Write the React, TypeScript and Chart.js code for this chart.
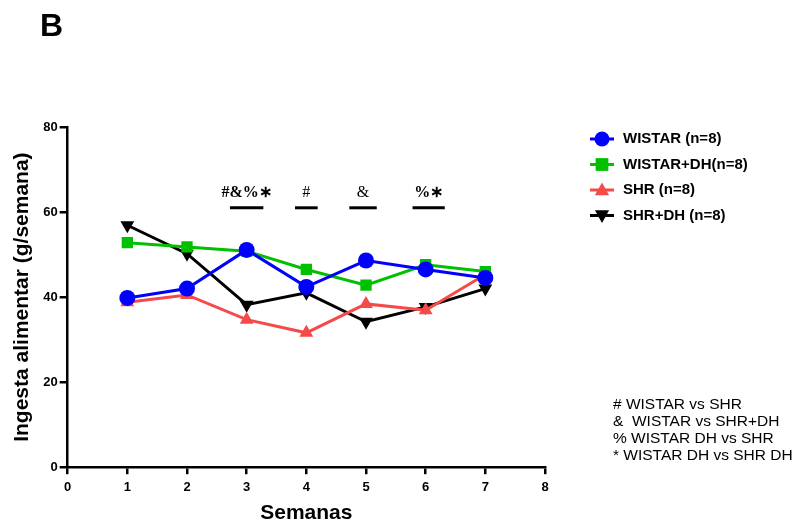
import React, { useEffect, useRef } from "react";
import { Chart, registerables } from "chart.js";

Chart.register(...registerables);

const weeks = [1, 2, 3, 4, 5, 6, 7];
const wistar = [39.8, 42.0, 51.1, 42.4, 48.6, 46.5, 44.5];
const wistarDH = [52.8, 51.8, 50.8, 46.5, 42.8, 47.6, 46.0];
const shr = [38.8, 40.5, 34.7, 31.6, 38.4, 36.9, 45.3];
const shrDH = [56.9, 50.2, 38.2, 41.0, 34.2, 37.7, 42.0];

const seriesNames = ["WISTAR (n=8)", "WISTAR+DH(n=8)", "SHR (n=8)", "SHR+DH (n=8)"];
const seriesColors = ["#0000ff", "#00c000", "#f44a4a", "#000000"];
const seriesPoint = ["circle", "rect", "triangle", "triangle"];
const seriesRot = [0, 0, 0, 180];

const annotLabels = ["#&%∗", "#", "&", "%∗"];
const annotBold = [true, false, false, true];
const annotX = [3.0, 4.0, 4.95, 6.05];
const annotHalfWidth = [0.28, 0.19, 0.23, 0.27];
const annotLineY = 61;

const footnotes = ["# WISTAR vs SHR", "&  WISTAR vs SHR+DH", "% WISTAR DH vs SHR", "* WISTAR DH vs SHR DH"];

const yTicks = [0, 20, 40, 60, 80];

function drawMarker(ctx: CanvasRenderingContext2D, style: string, rot: number, x: number, y: number, r: number, color: string) {
  ctx.save();
  ctx.fillStyle = color;
  ctx.translate(x, y);
  ctx.rotate((rot * Math.PI) / 180);
  ctx.beginPath();
  if (style === "circle") {
    ctx.arc(0, 0, r, 0, Math.PI * 2);
  } else if (style === "rect") {
    ctx.rect(-r * 0.85, -r * 0.85, r * 1.7, r * 1.7);
  } else {
    ctx.moveTo(0, -r);
    ctx.lineTo(r * 0.95, r * 0.7);
    ctx.lineTo(-r * 0.95, r * 0.7);
    ctx.closePath();
  }
  ctx.fill();
  ctx.restore();
}

const extrasPlugin = {
  id: "extras",
  afterDatasetsDraw(chart: any) {
    const ctx: CanvasRenderingContext2D = chart.ctx;
    const xs = chart.scales.x;
    const ys = chart.scales.y;
    ctx.save();
    ctx.fillStyle = "#000";
    ctx.font = "bold 32px 'Liberation Sans', Arial, sans-serif";
    ctx.textAlign = "left";
    ctx.textBaseline = "alphabetic";
    ctx.fillText("B", 40, 36);

    for (let i = 0; i < annotLabels.length; i++) {
      const cx = xs.getPixelForValue(annotX[i]);
      const x0 = xs.getPixelForValue(annotX[i] - annotHalfWidth[i]);
      const x1 = xs.getPixelForValue(annotX[i] + annotHalfWidth[i]);
      const ly = ys.getPixelForValue(annotLineY);
      ctx.strokeStyle = "#000";
      ctx.lineWidth = 3;
      ctx.beginPath();
      ctx.moveTo(x0, ly);
      ctx.lineTo(x1, ly);
      ctx.stroke();
      ctx.fillStyle = "#000";
      ctx.font = (annotBold[i] ? "bold " : "") + "16px 'Liberation Serif', serif";
      ctx.textAlign = "center";
      ctx.textBaseline = "middle";
      ctx.fillText(annotLabels[i], cx, ly - 15);
    }

    const lx = 602;
    for (let i = 0; i < seriesNames.length; i++) {
      const y = 139 + i * 25.5;
      ctx.strokeStyle = seriesColors[i];
      ctx.lineWidth = 3;
      ctx.beginPath();
      ctx.moveTo(lx - 12, y);
      ctx.lineTo(lx + 12, y);
      ctx.stroke();
      drawMarker(ctx, seriesPoint[i], seriesRot[i], lx, y, 7.5, seriesColors[i]);
      ctx.fillStyle = "#000";
      ctx.font = "bold 15px 'Liberation Sans', Arial, sans-serif";
      ctx.textAlign = "left";
      ctx.textBaseline = "middle";
      ctx.fillText(seriesNames[i], lx + 21, y);
    }

    ctx.fillStyle = "#000";
    ctx.font = "15.5px 'Liberation Sans', Arial, sans-serif";
    ctx.textAlign = "left";
    ctx.textBaseline = "middle";
    for (let i = 0; i < footnotes.length; i++) {
      ctx.fillText(footnotes[i], 613, 405 + i * 17);
    }
    ctx.restore();
  },
};

export default function App() {
  const ref = useRef<HTMLCanvasElement>(null);
  useEffect(() => {
    document.body.style.margin = "0";
    const series = [wistar, wistarDH, shr, shrDH];
    const chart = new Chart(ref.current!, {
      type: "line",
      data: {
        datasets: series.map((s, i) => ({
          label: seriesNames[i],
          data: weeks.map((w, j) => ({ x: w, y: s[j] })),
          borderColor: seriesColors[i],
          backgroundColor: seriesColors[i],
          borderWidth: 3,
          pointStyle: seriesPoint[i] as any,
          rotation: seriesRot[i],
          pointRadius: 8,
          pointBorderWidth: 0,
          tension: 0,
        })),
      },
      options: {
        animation: false,
        responsive: false,
        layout: { padding: { left: 10, right: 253, top: 127, bottom: 0 } },
        plugins: { legend: { display: false }, tooltip: { enabled: false } },
        scales: {
          x: {
            type: "linear",
            min: 0,
            max: 8,
            ticks: { stepSize: 1, color: "#000", font: { family: "'Liberation Sans', Arial", weight: "bold", size: 13 }, padding: 5 },
            grid: { drawOnChartArea: false, drawTicks: true, tickLength: 7, color: "#000", lineWidth: 2.5 },
            border: { color: "#000", width: 2.5 },
            title: { display: true, text: "Semanas", color: "#000", font: { family: "'Liberation Sans', Arial", weight: "bold", size: 21 }, padding: { top: 1, bottom: 0 } },
          },
          y: {
            type: "linear",
            min: 0,
            max: 80,
            afterBuildTicks: (axis: any) => {
              axis.ticks = yTicks.map((v) => ({ value: v }));
            },
            ticks: { color: "#000", font: { family: "'Liberation Sans', Arial", weight: "bold", size: 13 }, padding: 2 },
            grid: { drawOnChartArea: false, drawTicks: true, tickLength: 8, color: "#000", lineWidth: 2.5 },
            border: { color: "#000", width: 2.5 },
            title: { display: true, text: "Ingesta alimentar (g/semana)", color: "#000", font: { family: "'Liberation Sans', Arial", weight: "bold", size: 21 }, padding: { top: 0, bottom: 6 } },
          },
        },
      },
      plugins: [extrasPlugin],
    });
    return () => chart.destroy();
  }, []);
  return (
    <div style={{ width: 798, height: 526 }}>
      <canvas ref={ref} width={798} height={526} style={{ display: "block" }} />
    </div>
  );
}
